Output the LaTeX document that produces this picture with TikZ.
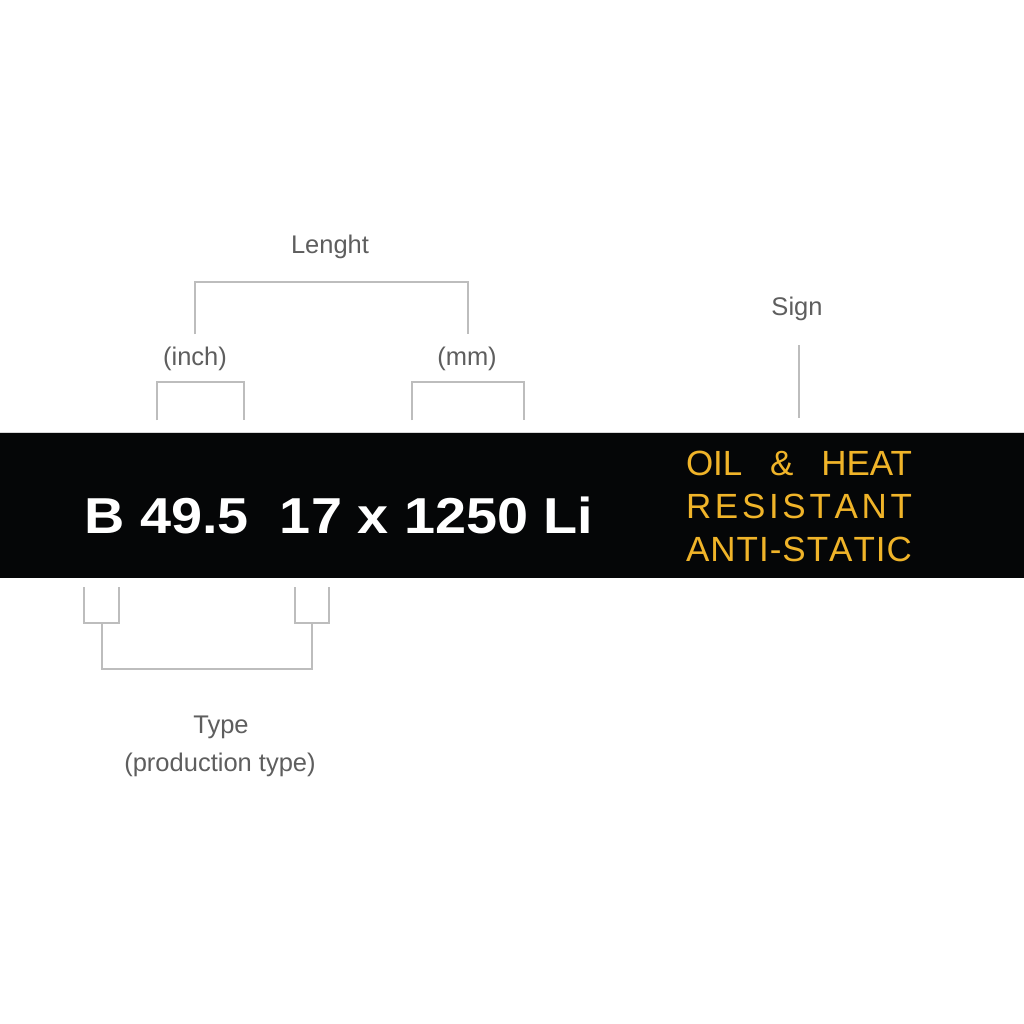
\documentclass[tikz,border=0pt]{standalone}
\usepackage{fontspec}
\setmainfont{Liberation Sans}
\definecolor{labelgray}{HTML}{5E5E5E}
\definecolor{linegray}{HTML}{BDBDBD}
\definecolor{signyellow}{HTML}{F0B429}
\definecolor{bandblack}{HTML}{050607}
\begin{document}
\begin{tikzpicture}[x=1pt,y=-1pt,
  lbl/.style={text=labelgray,font=\fontsize{25.5}{30}\selectfont,inner sep=0pt,anchor=base},
  brk/.style={draw=linegray,line width=2pt},
  sgn/.style={text=signyellow,font=\fontsize{35}{42}\selectfont,inner sep=0pt,anchor=base}]
\useasboundingbox[fill=white] (0,0) rectangle (1024,1024);
% band
\fill[bandblack] (0,432) rectangle (1024,578);
\draw[linegray!60,line width=1pt] (0,432.5) -- (1024,432.5);
% main code
\node[inner sep=0pt,anchor=base,text=white] (code) at (339,533)
  {\scalebox{1.105}[1]{\fontsize{50.5}{60}\selectfont\bfseries B 49.5\ \ 17 x 1250 Li}};
% sign text
\node[sgn] (s1) at (799,475) {\makebox[226pt][s]{OIL\hfill\&\hfill HEAT}};
\node[sgn] (s2) at (799,518) {\makebox[226pt][s]{R\hfill E\hfill S\hfill I\hfill S\hfill T\hfill A\hfill N\hfill T}};
\node[sgn] (s3) at (799,561) {\makebox[226pt][s]{A\hfill N\hfill T\hfill I\hfill -\hfill S\hfill T\hfill A\hfill T\hfill I\hfill C}};
% labels
\node[lbl] (lenght) at (330,253) {Lenght};
\node[lbl] (inch) at (195,365) {(inch)};
\node[lbl] (mm) at (467,365) {(mm)};
\node[lbl] (sign) at (797,315) {Sign};
\node[lbl] (type) at (221,733) {Type};
\node[lbl] (ptype) at (220,771) {(production type)};
% bracket coordinates
\coordinate (inL) at (157,420); \coordinate (inR) at (244,420);
\coordinate (mmL) at (412,420); \coordinate (mmR) at (524,420);
\coordinate (lnL) at (195,334); \coordinate (lnR) at (468,334);
\coordinate (sgT) at (799,345); \coordinate (sgB) at (799,418);
\coordinate (b1L) at (84,587); \coordinate (b1R) at (119,587);
\coordinate (b2L) at (295,587); \coordinate (b2R) at (329,587);
\coordinate (b1M) at (102,623); \coordinate (b2M) at (312,623);
% brackets
\draw[brk] (inL) -- ++(0,-38) -| (inR);
\draw[brk] (mmL) -- ++(0,-38) -| (mmR);
\draw[brk] (lnL) -- ++(0,-52) -| (lnR);
\draw[brk] (sgT) -- (sgB);
\draw[brk] (b1L) -- ++(0,36) -| (b1R);
\draw[brk] (b2L) -- ++(0,36) -| (b2R);
\draw[brk] (b1M) -- ++(0,46) -| (b2M);
\end{tikzpicture}
\end{document}
